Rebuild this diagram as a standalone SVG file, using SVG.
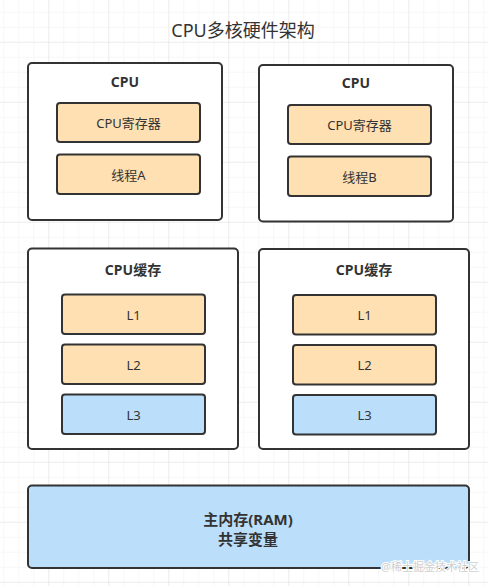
<svg xmlns="http://www.w3.org/2000/svg" width="488" height="586" viewBox="0 0 488 586">
<defs>
<pattern id="minor" x="3.3" y="11.7" width="15" height="15" patternUnits="userSpaceOnUse">
<path d="M0 0H15M0 0V15" fill="none" stroke="#f0f0f0" stroke-width="1"/>
</pattern>
<pattern id="major" x="48.3" y="41.7" width="60" height="60" patternUnits="userSpaceOnUse">
<path d="M0 0H60M0 0V60" fill="none" stroke="#e2e2e2" stroke-width="1"/>
</pattern>
</defs>
<style>
.box{fill:#ffffff;stroke:#333333;stroke-width:2}
.org{fill:#ffe0b2;stroke:#333333;stroke-width:2}
.blu{fill:#bbdefb;stroke:#333333;stroke-width:2}
text{font-family:"Noto Sans","Noto Sans CJK SC",sans-serif;fill:#333333;text-anchor:middle;dominant-baseline:central}
.t{font-size:13px}
.h{font-size:14px;font-weight:bold}
.m{font-size:15px;font-weight:bold}
.title{font-size:18px}
.wm{font-size:11px;fill:#cfcfcf;text-anchor:start;stroke:#ffffff;stroke-width:2;paint-order:stroke}
</style>
<rect width="488" height="586" fill="#ffffff"/>
<rect width="488" height="586" fill="url(#minor)"/>
<rect width="488" height="586" fill="url(#major)"/>
<text class="title" x="243" y="30">CPU多核硬件架构</text>
<g id="connectors"/>
<g id="cpu-a">
<rect class="box" x="28" y="63" width="194" height="157" rx="4"/>
<text class="h" x="125" y="81">CPU</text>
</g>
<g id="reg-a">
<rect class="org" x="57" y="103" width="143" height="39" rx="3"/>
<text class="t" x="128.5" y="123">CPU寄存器</text>
</g>
<g id="thread-a">
<rect class="org" x="57" y="154.5" width="143" height="39.5" rx="3"/>
<text class="t" x="128.5" y="174.5">线程A</text>
</g>
<g id="cpu-b">
<rect class="box" x="259" y="65" width="194" height="156.5" rx="4"/>
<text class="h" x="356" y="82">CPU</text>
</g>
<g id="reg-b">
<rect class="org" x="288" y="105" width="143" height="39" rx="3"/>
<text class="t" x="359.5" y="125">CPU寄存器</text>
</g>
<g id="thread-b">
<rect class="org" x="288" y="156.5" width="143" height="39.5" rx="3"/>
<text class="t" x="359.5" y="176.5">线程B</text>
</g>
<g id="cache-a">
<rect class="box" x="28" y="248.5" width="210" height="200.5" rx="4"/>
<text class="h" x="133" y="269">CPU缓存</text>
</g>
<g id="l1-a">
<rect class="org" x="62" y="294.5" width="143" height="39.5" rx="3"/>
<text class="t" x="133.5" y="314.5">L1</text>
</g>
<g id="l2-a">
<rect class="org" x="62" y="344.5" width="143" height="39.5" rx="3"/>
<text class="t" x="133.5" y="364.5">L2</text>
</g>
<g id="l3-a">
<rect class="blu" x="62" y="394.5" width="143" height="39.5" rx="3"/>
<text class="t" x="133.5" y="414.5">L3</text>
</g>
<g id="cache-b">
<rect class="box" x="259" y="249" width="210" height="200" rx="4"/>
<text class="h" x="364" y="269">CPU缓存</text>
</g>
<g id="l1-b">
<rect class="org" x="293" y="295" width="143" height="39.5" rx="3"/>
<text class="t" x="364.5" y="315">L1</text>
</g>
<g id="l2-b">
<rect class="org" x="293" y="345" width="143" height="39.5" rx="3"/>
<text class="t" x="364.5" y="365">L2</text>
</g>
<g id="l3-b">
<rect class="blu" x="293" y="395" width="143" height="39.5" rx="3"/>
<text class="t" x="364.5" y="415">L3</text>
</g>
<g id="ram">
<rect class="blu" x="28" y="485.5" width="441" height="82.5" rx="4"/>
<text class="m" x="248" y="519">主内存(RAM)</text>
<text class="m" x="248" y="539">共享变量</text>
</g>
<text class="wm" x="381" y="566">@稀土掘金技术社区</text>
</svg>
